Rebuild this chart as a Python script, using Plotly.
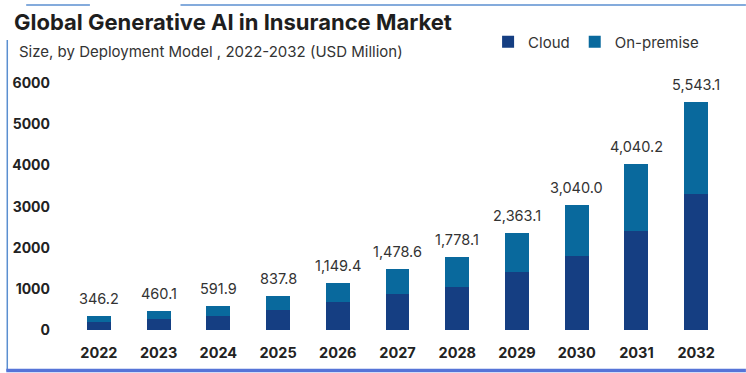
import plotly.graph_objects as go

years = ["2022", "2023", "2024", "2025", "2026", "2027", "2028", "2029", "2030", "2031", "2032"]
totals = [346.2, 460.1, 591.9, 837.8, 1149.4, 1478.6, 1778.1, 2363.1, 3040.0, 4040.2, 5543.1]
cloud = [200, 262, 345, 492, 682, 875, 1055, 1400, 1805, 2400, 3300]
on_premise = [round(t - c, 1) for t, c in zip(totals, cloud)]
y_ticks = [0, 1000, 2000, 3000, 4000, 5000, 6000]

W, H = 746, 373
L, R, T, B = 66, 20, 71, 43
pw, ph = W - L - R, H - T - B

def px(x):
    return (x - L) / pw

def py(y):
    return (H - B - y) / ph

FONT = "Inter"

fig = go.Figure()
fig.add_trace(go.Bar(x=years, y=cloud, name="Cloud", marker_color="#153e82",
                     marker_line_width=0, width=0.4))
fig.add_trace(go.Bar(x=years, y=on_premise, name="On-premise", marker_color="#09699d",
                     marker_line_width=0, width=0.4))

for i, t in enumerate(totals):
    fig.add_annotation(x=i, y=t, xref="x", yref="y", text=f"{t:,.1f}", showarrow=False,
                       yanchor="bottom", yshift=7,
                       font=dict(family=FONT, size=14.5, color="#333333"))

fig.add_annotation(xref="paper", yref="paper", x=px(9), y=py(22), xanchor="left", yanchor="middle",
                   text="<b>Global Generative AI in Insurance Market</b>", showarrow=False,
                   font=dict(family=FONT, size=22, color="#1e1e1e"))
fig.add_annotation(xref="paper", yref="paper", x=px(14), y=py(52), xanchor="left", yanchor="middle",
                   text="Size, by Deployment Model , 2022-2032 (USD Million)", showarrow=False,
                   font=dict(family=FONT, size=15, color="#333333"))

shapes = [
    dict(type="line", xref="paper", yref="paper", x0=px(23), x1=px(87), y0=py(5), y1=py(5),
         line=dict(color="#5b8fd0", width=1.5)),
    dict(type="line", xref="paper", yref="paper", x0=px(178), x1=px(746), y0=py(5), y1=py(5),
         line=dict(color="#5b8fd0", width=1.5)),
    dict(type="line", xref="paper", yref="paper", x0=px(4), x1=px(4), y0=py(40), y1=py(371),
         line=dict(color="#5b8fd0", width=1.5)),
    dict(type="line", xref="paper", yref="paper", x0=px(3), x1=px(746), y0=py(370.5), y1=py(370.5),
         line=dict(color="#5674d8", width=3.5)),
]

fig.update_layout(
    width=W, height=H,
    margin=dict(l=L, r=R, t=T, b=B, pad=0),
    barmode="stack",
    plot_bgcolor="white", paper_bgcolor="white",
    shapes=shapes,
    showlegend=True,
    legend=dict(orientation="h", x=px(487), y=py(42), xanchor="left", yanchor="middle",
                font=dict(family=FONT, size=15, color="#333333"), bgcolor="rgba(0,0,0,0)",
                traceorder="normal"),
    xaxis=dict(type="category", range=[-0.5, 10.5], showgrid=False, showline=False, ticks="",
               tickfont=dict(family=FONT, size=14.5, color="#222222", weight="bold"),
               ticklabelstandoff=12),
    yaxis=dict(range=[0, 6300], tickvals=y_ticks, showgrid=False, showline=False, zeroline=False,
               ticks="", tickfont=dict(family=FONT, size=14, color="#222222", weight="bold"),
               ticklabelstandoff=18),
)

fig.write_html("out.html", config={"displayModeBar": False},
               post_script="document.body.style.margin='0';document.body.style.overflow='hidden';")
